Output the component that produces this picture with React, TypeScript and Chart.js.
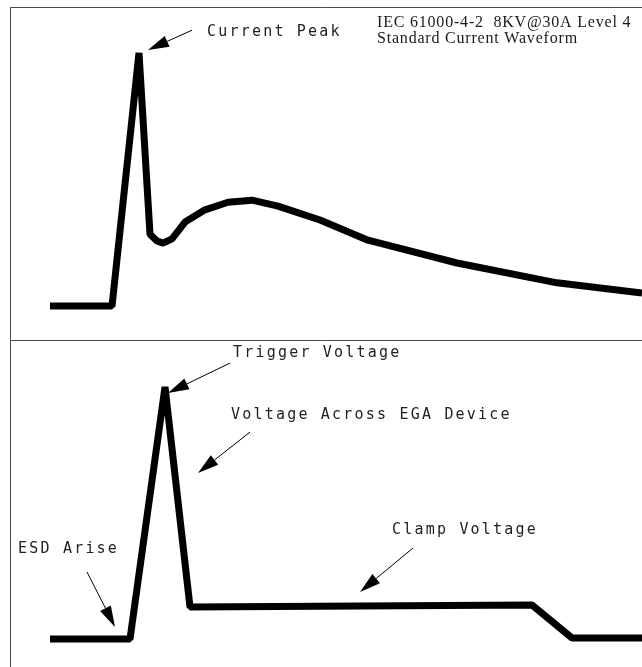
import React, { useEffect, useRef } from "react";
import { Chart, registerables } from "chart.js";

Chart.register(...registerables);

// ---------- Data (time in ns, current in A, voltage in % of trigger) ----------
const currentTimeNs = [4.0, 10.2, 12.9, 14.0, 14.7, 15.3, 16.2, 17.5, 19.5, 21.8, 24.2, 26.8, 31.0, 35.8, 44.7, 54.7, 63.2];
const currentAmps = [0, 0, 30, 8.5, 7.7, 7.45, 7.95, 9.95, 11.4, 12.3, 12.55, 11.85, 10.2, 7.8, 5.1, 2.75, 1.55];

const voltageTimeNs = [4.0, 12.0, 15.5, 18.0, 52.2, 56.2, 63.2];
const voltagePct = [0, 0, 100, 12.7, 13.5, 0.4, 0.4];

const xRange = [0, 63.2];
const currentRange = [-4.03, 35.45];
const voltageRange = [-11.1, 118.65];

// Annotation texts (x in ns, y in the panel's units)
const topLabels = ["Current Peak"];
const topLabelX = [19.7];
const topLabelY = [32.5];
const topArrowFrom = [[18.2, 32.7]];
const topArrowTo = [[13.8, 30.35]];
const titleLines = ["IEC 61000-4-2  8KV@30A Level 4", "Standard Current Waveform"];
const titleX = [36.7, 36.7];
const titleY = [33.08, 31.18];

const bottomLabels = ["Trigger Voltage", "Voltage Across EGA Device", "ESD Arise", "Clamp Voltage"];
const bottomLabelX = [22.3, 22.1, 0.8, 38.2];
const bottomLabelY = [113.5, 89.0, 35.8, 43.3];
const bottomArrowFrom = [[22.0, 109.5], [24.0, 82.1], [7.7, 26.6], [40.3, 36.1]];
const bottomArrowTo = [[15.8, 97.6], [18.8, 65.9], [10.5, 4.8], [35.0, 18.7]];

type Ann = {
  labels: string[];
  labelX: number[];
  labelY: number[];
  arrowFrom: number[][];
  arrowTo: number[][];
  titles?: string[];
  titleX?: number[];
  titleY?: number[];
};

const annotatePlugin = {
  id: "annotate",
  afterDatasetsDraw(chart: any, _args: any, opts: any) {
    const ann: Ann = opts.ann;
    if (!ann) return;
    const { ctx, chartArea, scales } = chart;
    const xs = scales.x;
    const ys = scales.y;
    ctx.save();
    // frame
    ctx.strokeStyle = "#4a4a4a";
    ctx.lineWidth = 1;
    ctx.beginPath();
    ctx.moveTo(chartArea.left + 0.5, chartArea.bottom);
    ctx.lineTo(chartArea.left + 0.5, chartArea.top + 0.5);
    ctx.lineTo(chartArea.right, chartArea.top + 0.5);
    ctx.stroke();

    // labels
    ctx.fillStyle = "#222";
    ctx.font = "15px 'DejaVu Sans Mono'";
    (ctx as any).letterSpacing = "2.2px";
    ctx.textAlign = "left";
    ctx.textBaseline = "middle";
    ann.labels.forEach((t, i) => {
      ctx.fillText(t, xs.getPixelForValue(ann.labelX[i]), ys.getPixelForValue(ann.labelY[i]));
    });

    // arrows
    ctx.strokeStyle = "#000";
    ctx.fillStyle = "#000";
    ann.arrowFrom.forEach((f, i) => {
      const t = ann.arrowTo[i];
      const x1 = xs.getPixelForValue(f[0]);
      const y1 = ys.getPixelForValue(f[1]);
      const x2 = xs.getPixelForValue(t[0]);
      const y2 = ys.getPixelForValue(t[1]);
      const dx = x2 - x1;
      const dy = y2 - y1;
      const len = Math.hypot(dx, dy);
      const ux = dx / len;
      const uy = dy / len;
      const headLen = 21;
      const halfW = 6;
      const bx = x2 - ux * headLen;
      const by = y2 - uy * headLen;
      ctx.lineWidth = 1;
      ctx.beginPath();
      ctx.moveTo(x1, y1);
      ctx.lineTo(bx, by);
      ctx.stroke();
      ctx.beginPath();
      ctx.moveTo(x2, y2);
      ctx.lineTo(bx - uy * halfW, by + ux * halfW);
      ctx.lineTo(bx + uy * halfW, by - ux * halfW);
      ctx.closePath();
      ctx.fill();
    });

    // title
    if (ann.titles) {
      ctx.fillStyle = "#1a1a1a";
      ctx.font = "16px 'Liberation Serif'";
      (ctx as any).letterSpacing = "0.8px";
      ctx.textBaseline = "alphabetic";
      ann.titles.forEach((t, i) => {
        ctx.fillText(t, xs.getPixelForValue(ann.titleX![i]), ys.getPixelForValue(ann.titleY![i]));
      });
    }
    ctx.restore();
  },
};

function makeConfig(
  xsData: number[],
  ysData: number[],
  yRange: number[],
  padding: any,
  ann: Ann
): any {
  const pts = xsData.map((x, i) => ({ x, y: ysData[i] }));
  return {
    type: "line",
    data: {
      datasets: [
        {
          data: pts,
          borderColor: "#000",
          borderWidth: 7,
          borderJoinStyle: "bevel",
          borderCapStyle: "butt",
          pointRadius: 0,
          tension: 0,
          fill: false,
        },
        {
          data: pts,
          borderColor: "rgba(255,255,255,0.75)",
          borderWidth: 0.6,
          borderJoinStyle: "bevel",
          pointRadius: 0,
          tension: 0,
          fill: false,
        },
      ],
    },
    options: {
      animation: false,
      responsive: false,
      events: [],
      layout: { padding },
      plugins: {
        legend: { display: false },
        tooltip: { enabled: false },
        annotate: { ann },
      },
      scales: {
        x: { type: "linear", min: xRange[0], max: xRange[1], display: false },
        y: { type: "linear", min: yRange[0], max: yRange[1], display: false },
      },
    },
    plugins: [annotatePlugin],
  };
}

export default function App() {
  const topRef = useRef<HTMLCanvasElement>(null);
  const botRef = useRef<HTMLCanvasElement>(null);

  useEffect(() => {
    const top = new Chart(
      topRef.current!,
      makeConfig(currentTimeNs, currentAmps, currentRange, { top: 7, left: 10, right: 0, bottom: 0 }, {
        labels: topLabels,
        labelX: topLabelX,
        labelY: topLabelY,
        arrowFrom: topArrowFrom,
        arrowTo: topArrowTo,
        titles: titleLines,
        titleX,
        titleY,
      })
    );
    const bot = new Chart(
      botRef.current!,
      makeConfig(voltageTimeNs, voltagePct, voltageRange, { top: 0, left: 10, right: 0, bottom: 0 }, {
        labels: bottomLabels,
        labelX: bottomLabelX,
        labelY: bottomLabelY,
        arrowFrom: bottomArrowFrom,
        arrowTo: bottomArrowTo,
      })
    );
    return () => {
      top.destroy();
      bot.destroy();
    };
  }, []);

  return (
    <div
      style={{
        position: "absolute",
        left: 0,
        top: 0,
        width: 642,
        height: 667,
        overflow: "hidden",
        background: "#fff",
      }}
    >
      <canvas ref={topRef} width={642} height={340} style={{ position: "absolute", left: 0, top: 0, width: 642, height: 340 }} />
      <canvas ref={botRef} width={642} height={327} style={{ position: "absolute", left: 0, top: 340, width: 642, height: 327 }} />
    </div>
  );
}
